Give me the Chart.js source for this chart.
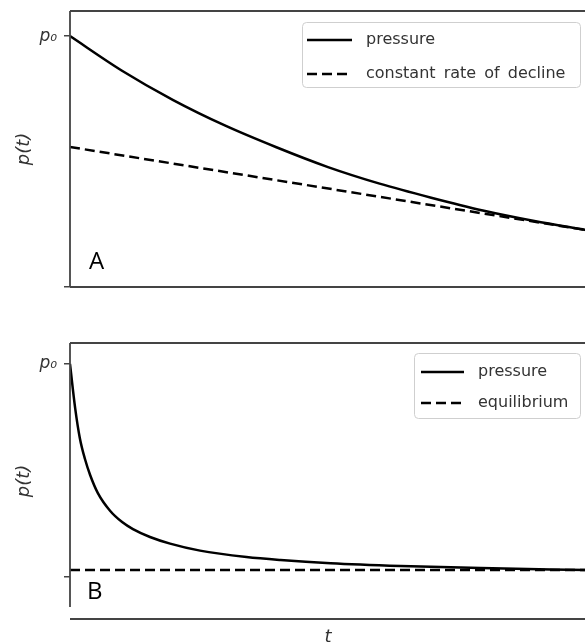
<!DOCTYPE html>
<html>
<head>
<meta charset="utf-8">
<script src="https://cdn.jsdelivr.net/npm/chart.js@4.4.1/dist/chart.umd.min.js"></script>
<style>
  html, body { margin: 0; padding: 0; background: #fff; overflow: hidden; width: 585px; height: 643px; }
  canvas { position: absolute; left: 0; }
  #panelA { top: 0; }
  #panelB { top: 300px; }
</style>
</head>
<body>
<canvas id="panelA" width="600" height="300"></canvas>
<canvas id="panelB" width="600" height="343"></canvas>
<script>
// Panel A: pressure decline against a constant-rate (tangent) line
const timeA = [0, 1, 2, 3, 4, 5, 6, 7, 8, 9, 10];
const pressureA = [1.000, 0.863, 0.745, 0.644, 0.557, 0.478, 0.412, 0.356, 0.305, 0.263, 0.227];
const declineTime = [0, 10];
const declineA = [0.558, 0.227];

// Panel B: fast pressure decay toward equilibrium
const timeB = [0, 0.10, 0.19, 0.29, 0.39, 0.54, 0.78, 1.01, 1.22, 1.55, 1.94, 2.52, 3.42, 4.08, 5.05, 6.41, 7.96, 10];
const pressureB = [1.000, 0.793, 0.653, 0.554, 0.479, 0.394, 0.310, 0.258, 0.225, 0.188, 0.157, 0.124, 0.094, 0.080, 0.065, 0.052, 0.042, 0.033];
const equilibriumTime = [0, 10];
const equilibriumB = [0.033, 0.033];

// Tick values on the pressure axis and their labels
const pTicks = [0, 1];
const pTickLabels = ['', 'p\u2080'];

const toPoints = (xs, ys) => xs.map((x, i) => ({ x, y: ys[i] }));

const INK = '#000';
const SPINE = '#444';
const TEXT = '#333';

// Frame, legend box and panel letter drawn on top of the plot
const framePlugin = {
  id: 'frame',
  afterDraw(chart, args, opts) {
    const { ctx, chartArea: a } = chart;
    ctx.save();
    ctx.strokeStyle = SPINE;
    ctx.lineWidth = 1.8;
    ctx.beginPath();
    ctx.moveTo(a.left, a.top); ctx.lineTo(a.right, a.top);
    ctx.moveTo(a.left, a.bottom); ctx.lineTo(a.right, a.bottom);
    ctx.moveTo(a.left, a.top); ctx.lineTo(a.left, opts.leftSpineEnd != null ? opts.leftSpineEnd : a.bottom);
    ctx.moveTo(a.right, a.top); ctx.lineTo(a.right, a.bottom);
    ctx.stroke();

    // legend
    const L = opts.legend;
    ctx.fillStyle = 'rgba(255,255,255,0.85)';
    ctx.strokeStyle = '#cfcfcf';
    ctx.lineWidth = 1;
    ctx.beginPath();
    ctx.roundRect(L.x + 0.5, L.y + 0.5, L.w, L.h, 4);
    ctx.fill();
    ctx.stroke();
    ctx.font = '16px "DejaVu Sans"';
    ctx.textBaseline = 'middle';
    ctx.textAlign = 'left';
    if ('wordSpacing' in ctx) ctx.wordSpacing = '3px';
    chart.data.datasets.forEach((ds, i) => {
      const y = L.rowY[i];
      ctx.strokeStyle = INK;
      ctx.lineWidth = 2.5;
      ctx.setLineDash(ds.borderDash || []);
      ctx.beginPath();
      ctx.moveTo(L.lineX0, y);
      ctx.lineTo(L.lineX1, y);
      ctx.stroke();
      ctx.setLineDash([]);
      ctx.fillStyle = TEXT;
      ctx.fillText(ds.label, L.textX, y);
    });
    if ('wordSpacing' in ctx) ctx.wordSpacing = '0px';

    // panel letter
    ctx.fillStyle = '#000';
    ctx.font = '24px "Open Sans"';
    ctx.textBaseline = 'alphabetic';
    ctx.fillText(opts.letter.text, opts.letter.x, opts.letter.y);
    ctx.restore();
  }
};

function yScale(min, max) {
  return {
    type: 'linear',
    min, max,
    afterFit(scale) {
      scale.width = 70;
      scale.paddingTop = 0;
      scale.paddingBottom = 0;
    },
    afterBuildTicks(scale) { scale.ticks = pTicks.map(v => ({ value: v })); },
    ticks: {
      callback: (v) => pTickLabels[pTicks.indexOf(v)] ?? '',
      font: { family: 'DejaVu Sans', size: 17, style: 'italic' },
      color: TEXT,
      padding: 7
    },
    grid: { drawOnChartArea: false, drawTicks: true, tickLength: 6, color: SPINE, lineWidth: 1.5 },
    border: { display: false },
    title: {
      display: true,
      text: 'p(t)',
      font: { family: 'DejaVu Sans', size: 18, style: 'italic', lineHeight: 1.2 },
      color: TEXT,
      padding: { top: 14, bottom: 0 }
    }
  };
}

const lineStyle = (dashed) => ({
  borderColor: INK,
  borderWidth: 2.5,
  borderDash: dashed ? [10, 5] : [],
  pointRadius: 0,
  fill: false,
  cubicInterpolationMode: 'monotone'
});

new Chart(document.getElementById('panelA'), {
  type: 'line',
  data: {
    datasets: [
      { label: 'pressure', data: toPoints(timeA, pressureA), ...lineStyle(false) },
      { label: 'constant rate of decline', data: toPoints(declineTime, declineA), ...lineStyle(true) }
    ]
  },
  options: {
    responsive: false,
    animation: false,
    devicePixelRatio: 1,
    layout: { padding: { left: 0, right: 14, top: 11, bottom: 13 } },
    plugins: {
      legend: { display: false },
      tooltip: { enabled: false },
      frame: {
        legend: { x: 302, y: 22, w: 278, h: 65, rowY: [40, 74], lineX0: 307, lineX1: 352, textX: 366 },
        letter: { text: 'A', x: 89, y: 269 }
      }
    },
    scales: {
      x: { type: 'linear', min: 0, max: 10, display: false },
      y: yScale(0, 1.1)
    }
  },
  plugins: [framePlugin]
});

new Chart(document.getElementById('panelB'), {
  type: 'line',
  data: {
    datasets: [
      { label: 'pressure', data: toPoints(timeB, pressureB), ...lineStyle(false) },
      { label: 'equilibrium', data: toPoints(equilibriumTime, equilibriumB), ...lineStyle(true) }
    ]
  },
  options: {
    responsive: false,
    animation: false,
    devicePixelRatio: 1,
    layout: { padding: { left: 0, right: 14, top: 43, bottom: 0 } },
    plugins: {
      legend: { display: false },
      tooltip: { enabled: false },
      frame: {
        leftSpineEnd: 307,
        legend: { x: 414, y: 53, w: 166, h: 65, rowY: [72, 103], lineX0: 421, lineX1: 464, textX: 478 },
        letter: { text: 'B', x: 87, y: 299 }
      }
    },
    scales: {
      x: {
        type: 'linear', min: 0, max: 10,
        afterFit(scale) { scale.height = 24; },
        ticks: { display: false },
        grid: { display: false },
        border: { display: false },
        title: {
          display: true,
          text: 't',
          font: { family: 'DejaVu Sans', size: 18, style: 'italic', lineHeight: 0.6 },
          color: TEXT,
          padding: { top: 0, bottom: 0 }
        }
      },
      y: yScale(-0.197, 1.0986)
    }
  },
  plugins: [framePlugin]
});
</script>
</body>
</html>
